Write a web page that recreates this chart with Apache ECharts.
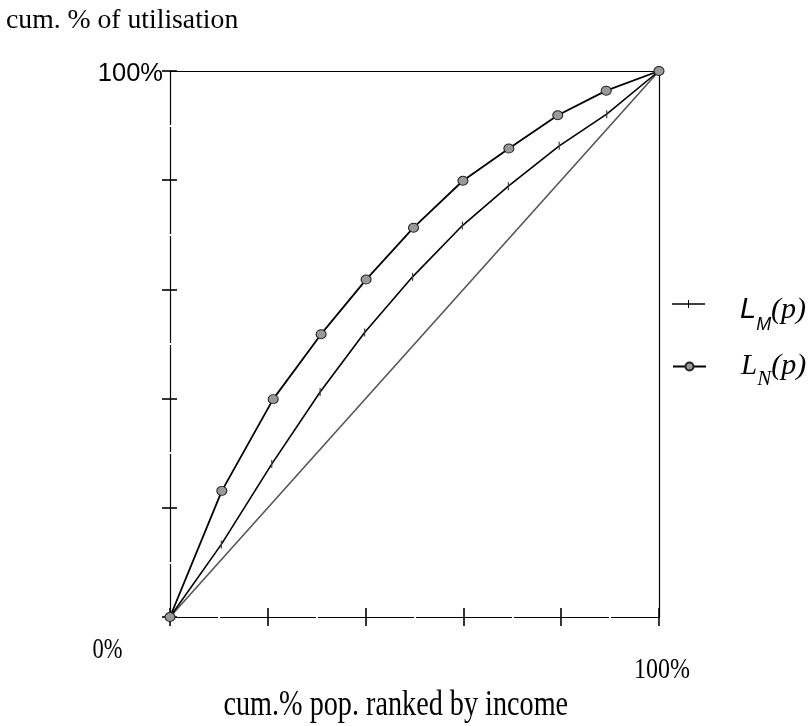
<!DOCTYPE html>
<html>
<head>
<meta charset="utf-8">
<script src="https://cdn.jsdelivr.net/npm/echarts@6/dist/echarts.min.js"></script>
<style>
  html, body { margin: 0; padding: 0; background: #fff; }
  #chart { width: 809px; height: 726px; }
</style>
</head>
<body>
<div id="chart"></div>
<script>
// ---- data ----
const xN = [0, 10.6, 21.1, 30.9, 40.1, 49.8, 59.9, 69.3, 79.3, 89.2, 100];
const yN = [0, 23.1, 39.9, 51.8, 61.8, 71.3, 79.9, 85.8, 91.9, 96.4, 100];
const xM = [0, 10.5, 20.8, 30.7, 39.8, 49.6, 59.8, 69.2, 79.6, 89.3, 100];
const yM = [0, 13.3, 28.0, 41.2, 52.1, 62.3, 71.7, 78.9, 86.3, 92.1, 100];
const xEq = [0, 100];
const yEq = [0, 100];
const yTickLabels = { 100: '100%' };
const xTickLabels = ['0%', '100%'];
const yAxisTitle = 'cum. % of utilisation';
const xAxisTitle = 'cum.% pop. ranked by income';
const seriesNames = ['L_M', 'L_N'];

const zip = (xs, ys) => xs.map((x, i) => [x, ys[i]]);

const SERIF = 'Liberation Serif, Times New Roman, serif';
const SANS = 'Liberation Sans, Arial, sans-serif';

const chart = echarts.init(document.getElementById('chart'), null, { renderer: 'canvas' });

const whiteMinor = { show: true, splitNumber: 2, length: 3, lineStyle: { color: '#fff', width: 2 } };

const lineOnly = (pos) => ({
  type: 'value', min: 0, max: 100, interval: 20, position: pos,
  axisLine: { show: true, onZero: false, lineStyle: { color: '#000', width: 1.2 } },
  axisTick: { show: false }, axisLabel: { show: false }, splitLine: { show: false }
});

const legendRich = {
  a: { fontFamily: SANS, fontStyle: 'italic', fontSize: 29, lineHeight: 40, padding: [12, 0, 0, 30], color: '#000' },
  b: { fontFamily: SANS, fontStyle: 'italic', fontSize: 18, lineHeight: 40, padding: [42, 0, 0, 0], color: '#000' },
  c: { fontFamily: SERIF, fontStyle: 'italic', fontSize: 30, lineHeight: 40, padding: [12, 0, 0, 0], color: '#000' },
  d: { fontFamily: SERIF, fontStyle: 'italic', fontSize: 29, lineHeight: 40, padding: [0, 0, 0, 30], color: '#000' },
  e: { fontFamily: SERIF, fontStyle: 'italic', fontSize: 21, lineHeight: 40, padding: [26, 0, 0, 0], color: '#000' },
  f: { fontFamily: SERIF, fontStyle: 'italic', fontSize: 30, lineHeight: 40, color: '#000' }
};
const legendBase = {
  orient: 'vertical', left: 672, padding: 0, itemWidth: 33, itemHeight: 10, selectedMode: false,
  formatter: name => name === 'L_M' ? '{a|L}{b|M}{c|(p)}' : '{d|L}{e|N}{f|(p)}',
  textStyle: { color: '#000', rich: legendRich }
};

const option = {
  animation: false,
  backgroundColor: '#fff',
  grid: { left: 170, top: 71, width: 489, height: 546, show: false },
  xAxis: [
    {
      type: 'value', min: 0, max: 100, interval: 20, position: 'bottom',
      axisLine: { show: true, onZero: false, lineStyle: { color: '#000', width: 1.2 } },
      axisTick: { show: true, inside: false, length: 9, lineStyle: { color: '#000', width: 1.6 } },
      minorTick: whiteMinor,
      axisLabel: { show: false },
      splitLine: { show: false }
    },
    {
      type: 'value', min: 0, max: 100, interval: 20, position: 'bottom',
      axisLine: { show: false, onZero: false },
      axisTick: { show: true, inside: true, length: 9, lineStyle: { color: '#000', width: 1.6 } },
      minorTick: whiteMinor,
      axisLabel: { show: false },
      splitLine: { show: false }
    },
    lineOnly('top')
  ],
  yAxis: [
    {
      type: 'value', min: 0, max: 100, interval: 20, position: 'left',
      axisLine: { show: true, onZero: false, lineStyle: { color: '#000', width: 1.2 } },
      axisTick: { show: true, inside: false, length: 8, lineStyle: { color: '#000', width: 1.6 } },
      minorTick: whiteMinor,
      axisLabel: {
        show: true, margin: 7, color: '#000', fontFamily: SANS, fontSize: 25.5,
        verticalAlign: 'top', lineHeight: 6.4,
        formatter: v => yTickLabels[v] || ''
      },
      splitLine: { show: false }
    },
    {
      type: 'value', min: 0, max: 100, interval: 20, position: 'left',
      axisLine: { show: false, onZero: false },
      axisTick: { show: true, inside: true, length: 7, lineStyle: { color: '#000', width: 1.6 } },
      minorTick: whiteMinor,
      axisLabel: { show: false },
      splitLine: { show: false }
    },
    lineOnly('right')
  ],
  legend: [
    Object.assign({}, legendBase, {
      top: 274,
      data: [{ name: 'L_M', icon: 'path://M0,4.3H33V5.7H0Z M16,1H17V9H16Z', itemStyle: { color: '#000' } }]
    }),
    Object.assign({}, legendBase, {
      top: 343,
      data: [{ name: 'L_N' }]
    })
  ],
  series: [
    {
      name: 'equality', type: 'line', data: zip(xEq, yEq), showSymbol: false, symbol: 'none',
      lineStyle: { color: '#555', width: 1.6 }, silent: true, clip: false, z: 2
    },
    {
      name: seriesNames[0], type: 'line', data: zip(xM, yM),
      symbol: 'rect', symbolSize: [1.2, 8], showSymbol: true,
      itemStyle: { color: '#444' },
      lineStyle: { color: '#000', width: 1.6 }, clip: false, z: 3
    },
    {
      name: seriesNames[1], type: 'line', data: zip(xN, yN),
      symbol: 'circle', symbolSize: [10, 9], showSymbol: true,
      itemStyle: { color: '#999', borderColor: '#222', borderWidth: 1 },
      lineStyle: { color: '#000', width: 1.8 }, clip: false, z: 4
    }
  ],
  graphic: [
    {
      type: 'text', x: 6, y: 20.5,
      style: { text: yAxisTitle, font: 'normal 27.7px ' + SERIF, fill: '#000', align: 'left', verticalAlign: 'middle', textAlign: 'left', textVerticalAlign: 'middle' }
    },
    {
      type: 'text', x: 107.5, y: 650.5, scaleX: 0.76,
      style: { text: xTickLabels[0], font: 'normal 29.6px ' + SERIF, fill: '#000', align: 'center', verticalAlign: 'middle', textAlign: 'center', textVerticalAlign: 'middle' }
    },
    {
      type: 'text', x: 662, y: 669.9, scaleX: 0.8,
      style: { text: xTickLabels[1], font: 'normal 30px ' + SERIF, fill: '#000', align: 'center', verticalAlign: 'middle', textAlign: 'center', textVerticalAlign: 'middle' }
    },
    {
      type: 'text', x: 395.8, y: 705.8, scaleX: 0.806,
      style: { text: xAxisTitle, font: 'normal 35px ' + SERIF, fill: '#000', align: 'center', verticalAlign: 'middle', textAlign: 'center', textVerticalAlign: 'middle' }
    }
  ]
};

chart.setOption(option);
</script>
</body>
</html>
